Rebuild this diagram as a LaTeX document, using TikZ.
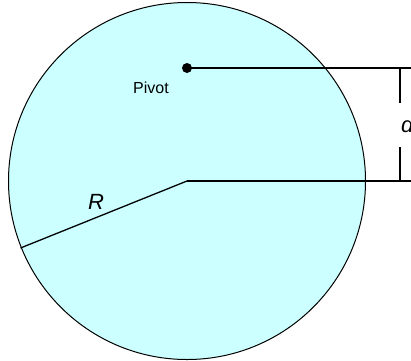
\documentclass[tikz,border=0pt]{standalone}
\usepackage{fontspec}
\setmainfont{Liberation Sans}
\definecolor{diskfill}{HTML}{CCFFFF}
\begin{document}
\begin{tikzpicture}[x=1pt,y=-1pt,
  edge/.style={line width=1.3pt,black},
  lbl/.style={inner sep=0pt,font=\fontsize{16}{18}\selectfont},
  biglbl/.style={inner sep=0pt,font=\fontsize{22}{24}\selectfont\itshape}]
\useasboundingbox (0,0) rectangle (411,360);
\begin{scope}
\clip (0,0) rectangle (411,360);
\fill[diskfill] (187,181) circle (178.5);
\draw[line width=1pt] (187,181) circle (178.5);
\coordinate (C) at (187,181);
\coordinate (P) at (187,68);
\coordinate (Rend) at (20.5,248);
\coordinate (T1) at (412,68);
\coordinate (T2) at (412,181);
\coordinate (D1) at (400,68);
\coordinate (D2) at (400,181);
\node[biglbl,anchor=west] (d) at (401,125) {d};
\draw[edge] (P) -- (T1);
\draw[edge] (C) -- (T2);
\draw[edge] (C) -- (Rend);
\draw[edge] (D1) -- (400,103);
\draw[edge] (400,147) -- (D2);
\fill (P) circle (5);
\node[lbl] (pivot) at (151,88) {Pivot};
\node[biglbl] (R) at (96,202) {R};
\end{scope}
\end{tikzpicture}
\end{document}
